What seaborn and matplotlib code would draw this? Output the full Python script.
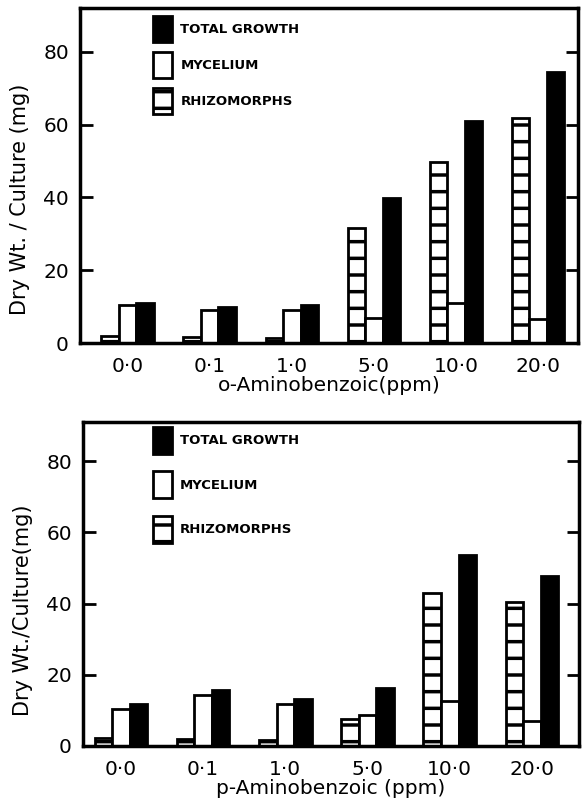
import pandas as pd
import matplotlib
matplotlib.use("Agg")
import matplotlib.pyplot as plt
from matplotlib.patches import Patch
import seaborn as sns

# concentrations on the x axis
conc_labels = ["0·0", "0·1", "1·0", "5·0", "10·0", "20·0"]
parts = ["Rhizomorphs", "Mycelium", "Total growth"]
legend_labels = ["TOTAL GROWTH", "MYCELIUM", "RHIZOMORPHS"]

# o-Aminobenzoic (top panel), dry wt per culture (mg)
ortho_rhizomorphs = [2.0, 1.7, 1.5, 31.7, 49.7, 61.8]
ortho_mycelium = [10.4, 9.2, 9.2, 7.0, 10.9, 6.5]
ortho_total = [11.0, 9.9, 10.4, 39.9, 60.9, 74.4]

# p-Aminobenzoic (bottom panel)
para_rhizomorphs = [2.3, 2.1, 1.8, 7.5, 43.0, 40.4]
para_mycelium = [10.3, 14.3, 11.9, 8.7, 12.6, 7.0]
para_total = [11.7, 15.7, 13.3, 16.4, 53.7, 47.6]


def long_table(rhizo, myc, total):
    rows = []
    for part, vals in zip(parts, [rhizo, myc, total]):
        for c, v in zip(conc_labels, vals):
            rows.append({"conc": c, "part": part, "value": v})
    return pd.DataFrame(rows)


sns.set_style("ticks")
plt.rcParams["font.family"] = ["DejaVu Sans"]
plt.rcParams["hatch.linewidth"] = 2.5
plt.rcParams["hatch.color"] = "black"
for key in ["text.color", "axes.labelcolor", "xtick.color", "ytick.color", "axes.edgecolor"]:
    plt.rcParams[key] = "black"

palette = {"Rhizomorphs": "white", "Mycelium": "white", "Total growth": "black"}


def draw_panel(ax, df, xlabel, ylabel, ylim, xlim, legend_anchor, label_y, spacing, handleheight):
    sns.barplot(
        data=df, x="conc", y="value", hue="part",
        order=conc_labels, hue_order=parts, palette=palette,
        width=0.64, edgecolor="black", linewidth=2, saturation=1,
        legend=False, ax=ax,
    )
    for bar in ax.containers[0]:
        bar.set_hatch("-")

    ax.set_ylim(*ylim)
    ax.set_xlim(*xlim)
    ax.set_yticks([0, 20, 40, 60, 80])
    ax.tick_params(axis="y", direction="in", length=9, width=2,
                   labelsize=14.5, pad=8, left=True, right=True)
    ax.tick_params(axis="x", length=0, pad=10, labelsize=14.5)
    for sp in ax.spines.values():
        sp.set_visible(True)
        sp.set_linewidth(2.5)

    ax.set_xlabel(xlabel, fontsize=14.5, labelpad=0)
    ax.set_ylabel(ylabel, fontsize=15)
    ax.yaxis.set_label_coords(-0.10, label_y)

    handles = [
        Patch(facecolor="black", edgecolor="black", linewidth=2),
        Patch(facecolor="white", edgecolor="black", linewidth=2),
        Patch(facecolor="white", edgecolor="black", linewidth=2, hatch="-"),
    ]
    ax.legend(handles, legend_labels, loc="upper left", bbox_to_anchor=legend_anchor,
              frameon=False, borderpad=0, borderaxespad=0,
              handlelength=1.45, handleheight=handleheight, labelspacing=spacing,
              handletextpad=0.6, prop={"weight": "bold", "size": 9.5})


fig = plt.figure(figsize=(5.82, 8.09), dpi=100)
ax_top = fig.add_axes([0.1375, 0.576, 0.856, 0.414])
ax_bot = fig.add_axes([0.1426, 0.0779, 0.852, 0.4005])

draw_panel(ax_top, long_table(ortho_rhizomorphs, ortho_mycelium, ortho_total),
           "o-Aminobenzoic(ppm)", "Dry Wt. / Culture (mg)",
           (0, 92), (-0.58, 5.49), (0.147, 0.976), 0.43, 0.8, 2.6)
draw_panel(ax_bot, long_table(para_rhizomorphs, para_mycelium, para_total),
           "p-Aminobenzoic (ppm)", "Dry Wt./Culture(mg)",
           (0, 91), (-0.46, 5.57), (0.141, 0.985), 0.42, 1.3, 2.8)

fig.savefig("out.png", dpi=100)
